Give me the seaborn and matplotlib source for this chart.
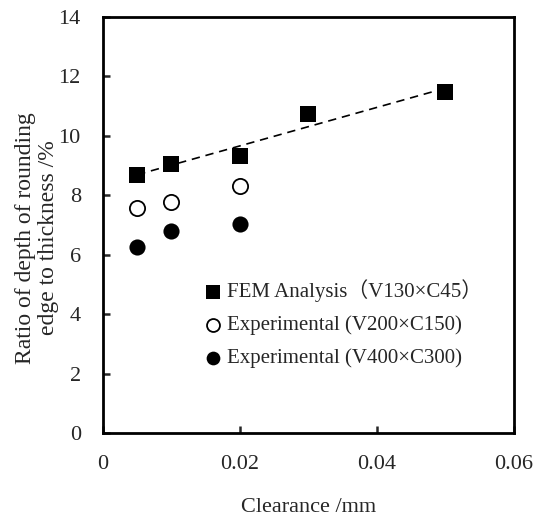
import numpy as np
import pandas as pd
import matplotlib
matplotlib.use("Agg")
import matplotlib.pyplot as plt
import seaborn as sns

# valores
clearance_fem = [0.005, 0.01, 0.02, 0.03, 0.05]
ratio_fem = [8.69, 9.06, 9.33, 10.73, 11.48]

clearance_exp = [0.005, 0.01, 0.02]
ratio_v200 = [7.56, 7.79, 8.32]
ratio_v400 = [6.27, 6.80, 7.02]

x_ticks = [0, 0.02, 0.04, 0.06]
x_tick_labels = ["0", "0.02", "0.04", "0.06"]
y_ticks = [0, 2, 4, 6, 8, 10, 12, 14]

sns.set_style("ticks")
plt.rcParams["font.family"] = ["Liberation Serif", "Noto Sans CJK JP", "DejaVu Serif"]

fig = plt.figure(figsize=(5.35, 5.16), dpi=100)
ax = fig.add_axes([0.1925, 0.1609, 0.7682, 0.8061])

df_fem = pd.DataFrame({"x": clearance_fem, "y": ratio_fem})

# linha de tendência linear (tracejada)
sns.regplot(data=df_fem, x="x", y="y", ax=ax, ci=None, scatter=False,
            line_kws={"color": "black", "lw": 1.2, "ls": (0, (5, 3.5))})

sns.scatterplot(x=clearance_fem, y=ratio_fem, ax=ax, marker="s", s=140,
                color="black", edgecolor="black", linewidth=0,
                label="FEM Analysis\uff08V130\u00d7C45\uff09")
sns.scatterplot(x=clearance_exp, y=ratio_v200, ax=ax, marker="o", s=120,
                facecolor="white", edgecolor="black", linewidth=1.3,
                label="Experimental (V200\u00d7C150)")
sns.scatterplot(x=clearance_exp, y=ratio_v400, ax=ax, marker="o", s=135,
                color="black", edgecolor="black", linewidth=0,
                label="Experimental (V400\u00d7C300)")

ax.set_xlim(0, 0.06)
ax.set_ylim(0, 14)
ax.set_xticks(x_ticks)
ax.set_yticks(y_ticks)
ax.set_xticklabels(x_tick_labels)
ax.tick_params(direction="in", length=5, width=1.8, labelsize=16)
ax.tick_params(axis="x", pad=16)
ax.tick_params(axis="y", pad=16)
for s in ax.spines.values():
    s.set_linewidth(2)
    s.set_color("black")

ax.set_xlabel("Clearance /mm", fontsize=16, labelpad=17)
ax.set_ylabel("Ratio of depth of rounding\nedge to thickness /%", fontsize=17,
              linespacing=1.1, va="center")
ax.yaxis.set_label_coords(-0.1606, 0.469)

leg = ax.legend(loc="upper left", bbox_to_anchor=(0.242, 0.369), frameon=False,
                fontsize=15, handlelength=1.0, handletextpad=0.2,
                labelspacing=0.63, markerscale=0.85, borderpad=0,
                borderaxespad=0)
ax.grid(False)

fig.savefig("out.png", dpi=100)
